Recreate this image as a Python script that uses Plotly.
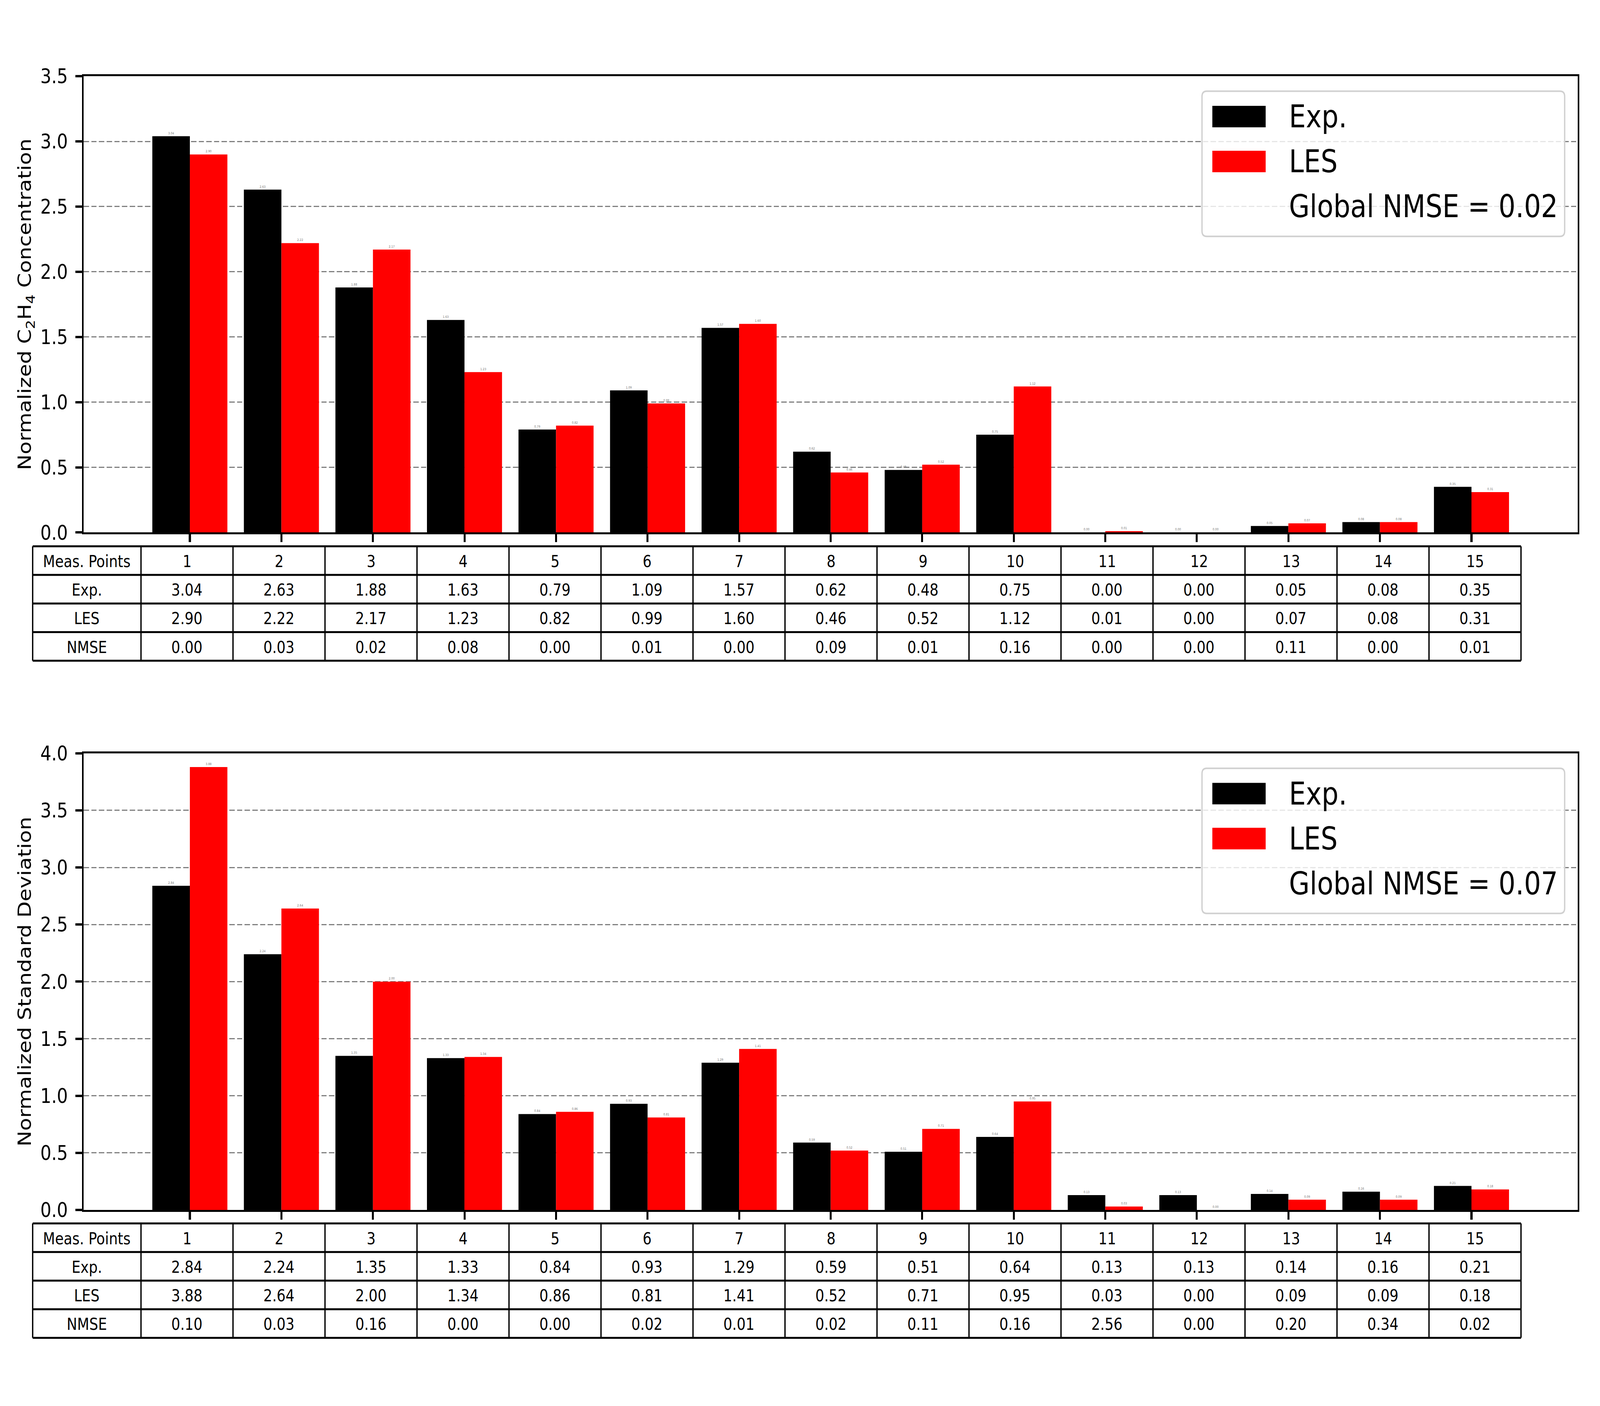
import plotly.graph_objects as go

# ---------------- data ----------------
points = list(range(1, 16))
conc_exp = [3.04, 2.63, 1.88, 1.63, 0.79, 1.09, 1.57, 0.62, 0.48, 0.75, 0.00, 0.00, 0.05, 0.08, 0.35]
conc_les = [2.90, 2.22, 2.17, 1.23, 0.82, 0.99, 1.60, 0.46, 0.52, 1.12, 0.01, 0.00, 0.07, 0.08, 0.31]
conc_nmse = [0.00, 0.03, 0.02, 0.08, 0.00, 0.01, 0.00, 0.09, 0.01, 0.16, 0.00, 0.00, 0.11, 0.00, 0.01]
conc_global = 0.02

std_exp = [2.84, 2.24, 1.35, 1.33, 0.84, 0.93, 1.29, 0.59, 0.51, 0.64, 0.13, 0.13, 0.14, 0.16, 0.21]
std_les = [3.88, 2.64, 2.00, 1.34, 0.86, 0.81, 1.41, 0.52, 0.71, 0.95, 0.03, 0.00, 0.09, 0.09, 0.18]
std_nmse = [0.10, 0.03, 0.16, 0.00, 0.00, 0.02, 0.01, 0.02, 0.11, 0.16, 2.56, 0.00, 0.20, 0.34, 0.02]
std_global = 0.07

row_labels = ["Meas. Points", "Exp.", "LES", "NMSE"]
series_names = ["Exp.", "LES"]
series_colors = ["#000000", "#ff0000"]

# ---------------- layout constants (pixels of a 4800x3600 page) ----------------
W, H = 4800, 3600
FONT = "DejaVu Sans"


def px(x):
    return x / W


def py(y):
    return 1 - y / H


AX_X = [251, 4733]
panels = [
    dict(ax_y=[168, 1356], tab_y=[1392, 1690], yrange=[0, 3.5],
         title="Normalized C<sub>2</sub>H<sub>4</sub> Concentration",
         exp=conc_exp, les=conc_les, nmse=conc_nmse, glob=conc_global),
    dict(ax_y=[1931, 3120], tab_y=[3155, 3453], yrange=[0, 4.0],
         title="Normalized Standard Deviation",
         exp=std_exp, les=std_les, nmse=std_nmse, glob=std_global),
]
TAB_X0, TAB_COL0, TAB_X1 = 98, 423, 4563
BAR_W = 0.41

fig = go.Figure()
shapes = []
annotations = []

for i, p in enumerate(panels, start=1):
    xa = "x" if i == 1 else f"x{i}"
    ya = "y" if i == 1 else f"y{i}"
    for name, vals, color, off in zip(series_names, [p["exp"], p["les"]], series_colors, [-BAR_W, 0]):
        fig.add_trace(go.Bar(
            x=points, y=vals, name=name, marker=dict(color=color, line=dict(width=0)),
            width=BAR_W, offset=off, xaxis=xa, yaxis=ya, showlegend=False,
            text=[f"{v:.2f}" for v in vals], textposition="outside",
            textfont=dict(family=FONT, size=8, color="#777777"), cliponaxis=False,
            hoverinfo="skip",
        ))

    axis_common = dict(showline=True, mirror=True, linecolor="black", linewidth=5,
                       ticks="outside", ticklen=20, tickwidth=6, tickcolor="black")
    xkey = "xaxis" if i == 1 else f"xaxis{i}"
    ykey = "yaxis" if i == 1 else f"yaxis{i}"
    fig.update_layout({
        xkey: dict(domain=[px(AX_X[0]), px(AX_X[1])], anchor=ya, range=[-0.16, 16.16],
                   tickvals=points, showticklabels=False, showgrid=False, zeroline=False,
                   **axis_common),
        ykey: dict(domain=[py(p["ax_y"][1]), py(p["ax_y"][0])], anchor=xa, range=p["yrange"],
                   dtick=0.5, tick0=0, tickformat=".1f", showgrid=True, gridcolor="#808080",
                   gridwidth=3, griddash="16px,7px", zeroline=False,
                   tickfont=dict(family=FONT, size=52, color="black"),
                   ticklabelstandoff=12,
                   title=dict(text=p["title"], font=dict(family=FONT, size=54, color="black"),
                              standoff=12),
                   **axis_common),
    })

    # ---- table under the axes (text + grid lines) ----
    table_rows = [
        [row_labels[0]] + [str(v) for v in points],
        [row_labels[1]] + [f"{v:.2f}" for v in p["exp"]],
        [row_labels[2]] + [f"{v:.2f}" for v in p["les"]],
        [row_labels[3]] + [f"{v:.2f}" for v in p["nmse"]],
    ]
    n_rows = len(table_rows)
    n_cols = len(table_rows[0])
    col_w = (TAB_X1 - TAB_COL0) / (n_cols - 1)
    col_edges = [TAB_X0] + [TAB_COL0 + k * col_w for k in range(n_cols)]
    ty0, ty1 = p["tab_y"]
    row_h = (ty1 - ty0) / n_rows
    row_edges = [ty0 + k * row_h for k in range(n_rows + 1)]
    for ye in row_edges:
        shapes.append(dict(type="line", xref="paper", yref="paper", layer="above",
                           x0=px(col_edges[0]), x1=px(col_edges[-1]), y0=py(ye), y1=py(ye),
                           line=dict(color="black", width=5)))
    for xe in col_edges:
        shapes.append(dict(type="line", xref="paper", yref="paper", layer="above",
                           x0=px(xe), x1=px(xe), y0=py(ty0), y1=py(ty1),
                           line=dict(color="black", width=4)))
    for r_i, row in enumerate(table_rows):
        cy = (row_edges[r_i] + row_edges[r_i + 1]) / 2
        for c_i, txt in enumerate(row):
            cx = (col_edges[c_i] + col_edges[c_i + 1]) / 2
            annotations.append(dict(xref="paper", yref="paper", x=px(cx), y=py(cy + 2),
                                    xanchor="center", yanchor="middle", showarrow=False,
                                    text=txt, font=dict(family=FONT, size=42, color="black")))

    # ---- legend (matplotlib style box) ----
    top = p["ax_y"][0] + 39
    bx0, bx1, by0, by1 = 3606, 4694, top, top + 378
    r = 14
    path = (f"M {px(bx0 + r)} {py(by0)} L {px(bx1 - r)} {py(by0)} "
            f"Q {px(bx1)} {py(by0)} {px(bx1)} {py(by0 + r)} "
            f"L {px(bx1)} {py(by1 - r)} Q {px(bx1)} {py(by1)} {px(bx1 - r)} {py(by1)} "
            f"L {px(bx0 + r)} {py(by1)} Q {px(bx0)} {py(by1)} {px(bx0)} {py(by1 - r)} "
            f"L {px(bx0)} {py(by0 + r)} Q {px(bx0)} {py(by0)} {px(bx0 + r)} {py(by0)} Z")
    shapes.append(dict(type="path", xref="paper", yref="paper", path=path,
                       fillcolor="rgba(255,255,255,0.8)", line=dict(color="#d0d0d0", width=4)))
    labels = series_names + [f"Global NMSE = {p['glob']:.2f}"]
    for k, lab in enumerate(labels):
        cy = top + 66 + 117 * k
        if k < len(series_colors):
            shapes.append(dict(type="rect", xref="paper", yref="paper",
                               x0=px(3637), x1=px(3797), y0=py(cy + 28), y1=py(cy - 28),
                               fillcolor=series_colors[k], line=dict(width=0)))
        annotations.append(dict(xref="paper", yref="paper", x=px(3865), y=py(cy),
                                xanchor="left", yanchor="middle", showarrow=False, text=lab,
                                font=dict(family=FONT, size=80, color="black")))

fig.update_layout(
    width=W, height=H, margin=dict(l=0, r=0, t=0, b=0),
    paper_bgcolor="white", plot_bgcolor="white",
    barmode="overlay", shapes=shapes, annotations=annotations,
    font=dict(family=FONT, color="black"), hovermode=False,
    uniformtext=dict(mode=False),
)

# stretch the 4800x3600 figure so it exactly fills the browser viewport
fit_js = """
var gd = document.getElementById('{plot_id}');
document.documentElement.style.margin = '0';
document.body.style.margin = '0';
document.body.style.overflow = 'hidden';
function fitFigure() {
  var sx = window.innerWidth / %d, sy = window.innerHeight / %d;
  gd.style.transformOrigin = '0 0';
  gd.style.transform = 'scale(' + sx + ',' + sy + ')';
}
fitFigure();
window.addEventListener('resize', fitFigure);
""" % (W, H)

fig.write_html("out.html", post_script=fit_js, config={"displayModeBar": False, "staticPlot": True})
